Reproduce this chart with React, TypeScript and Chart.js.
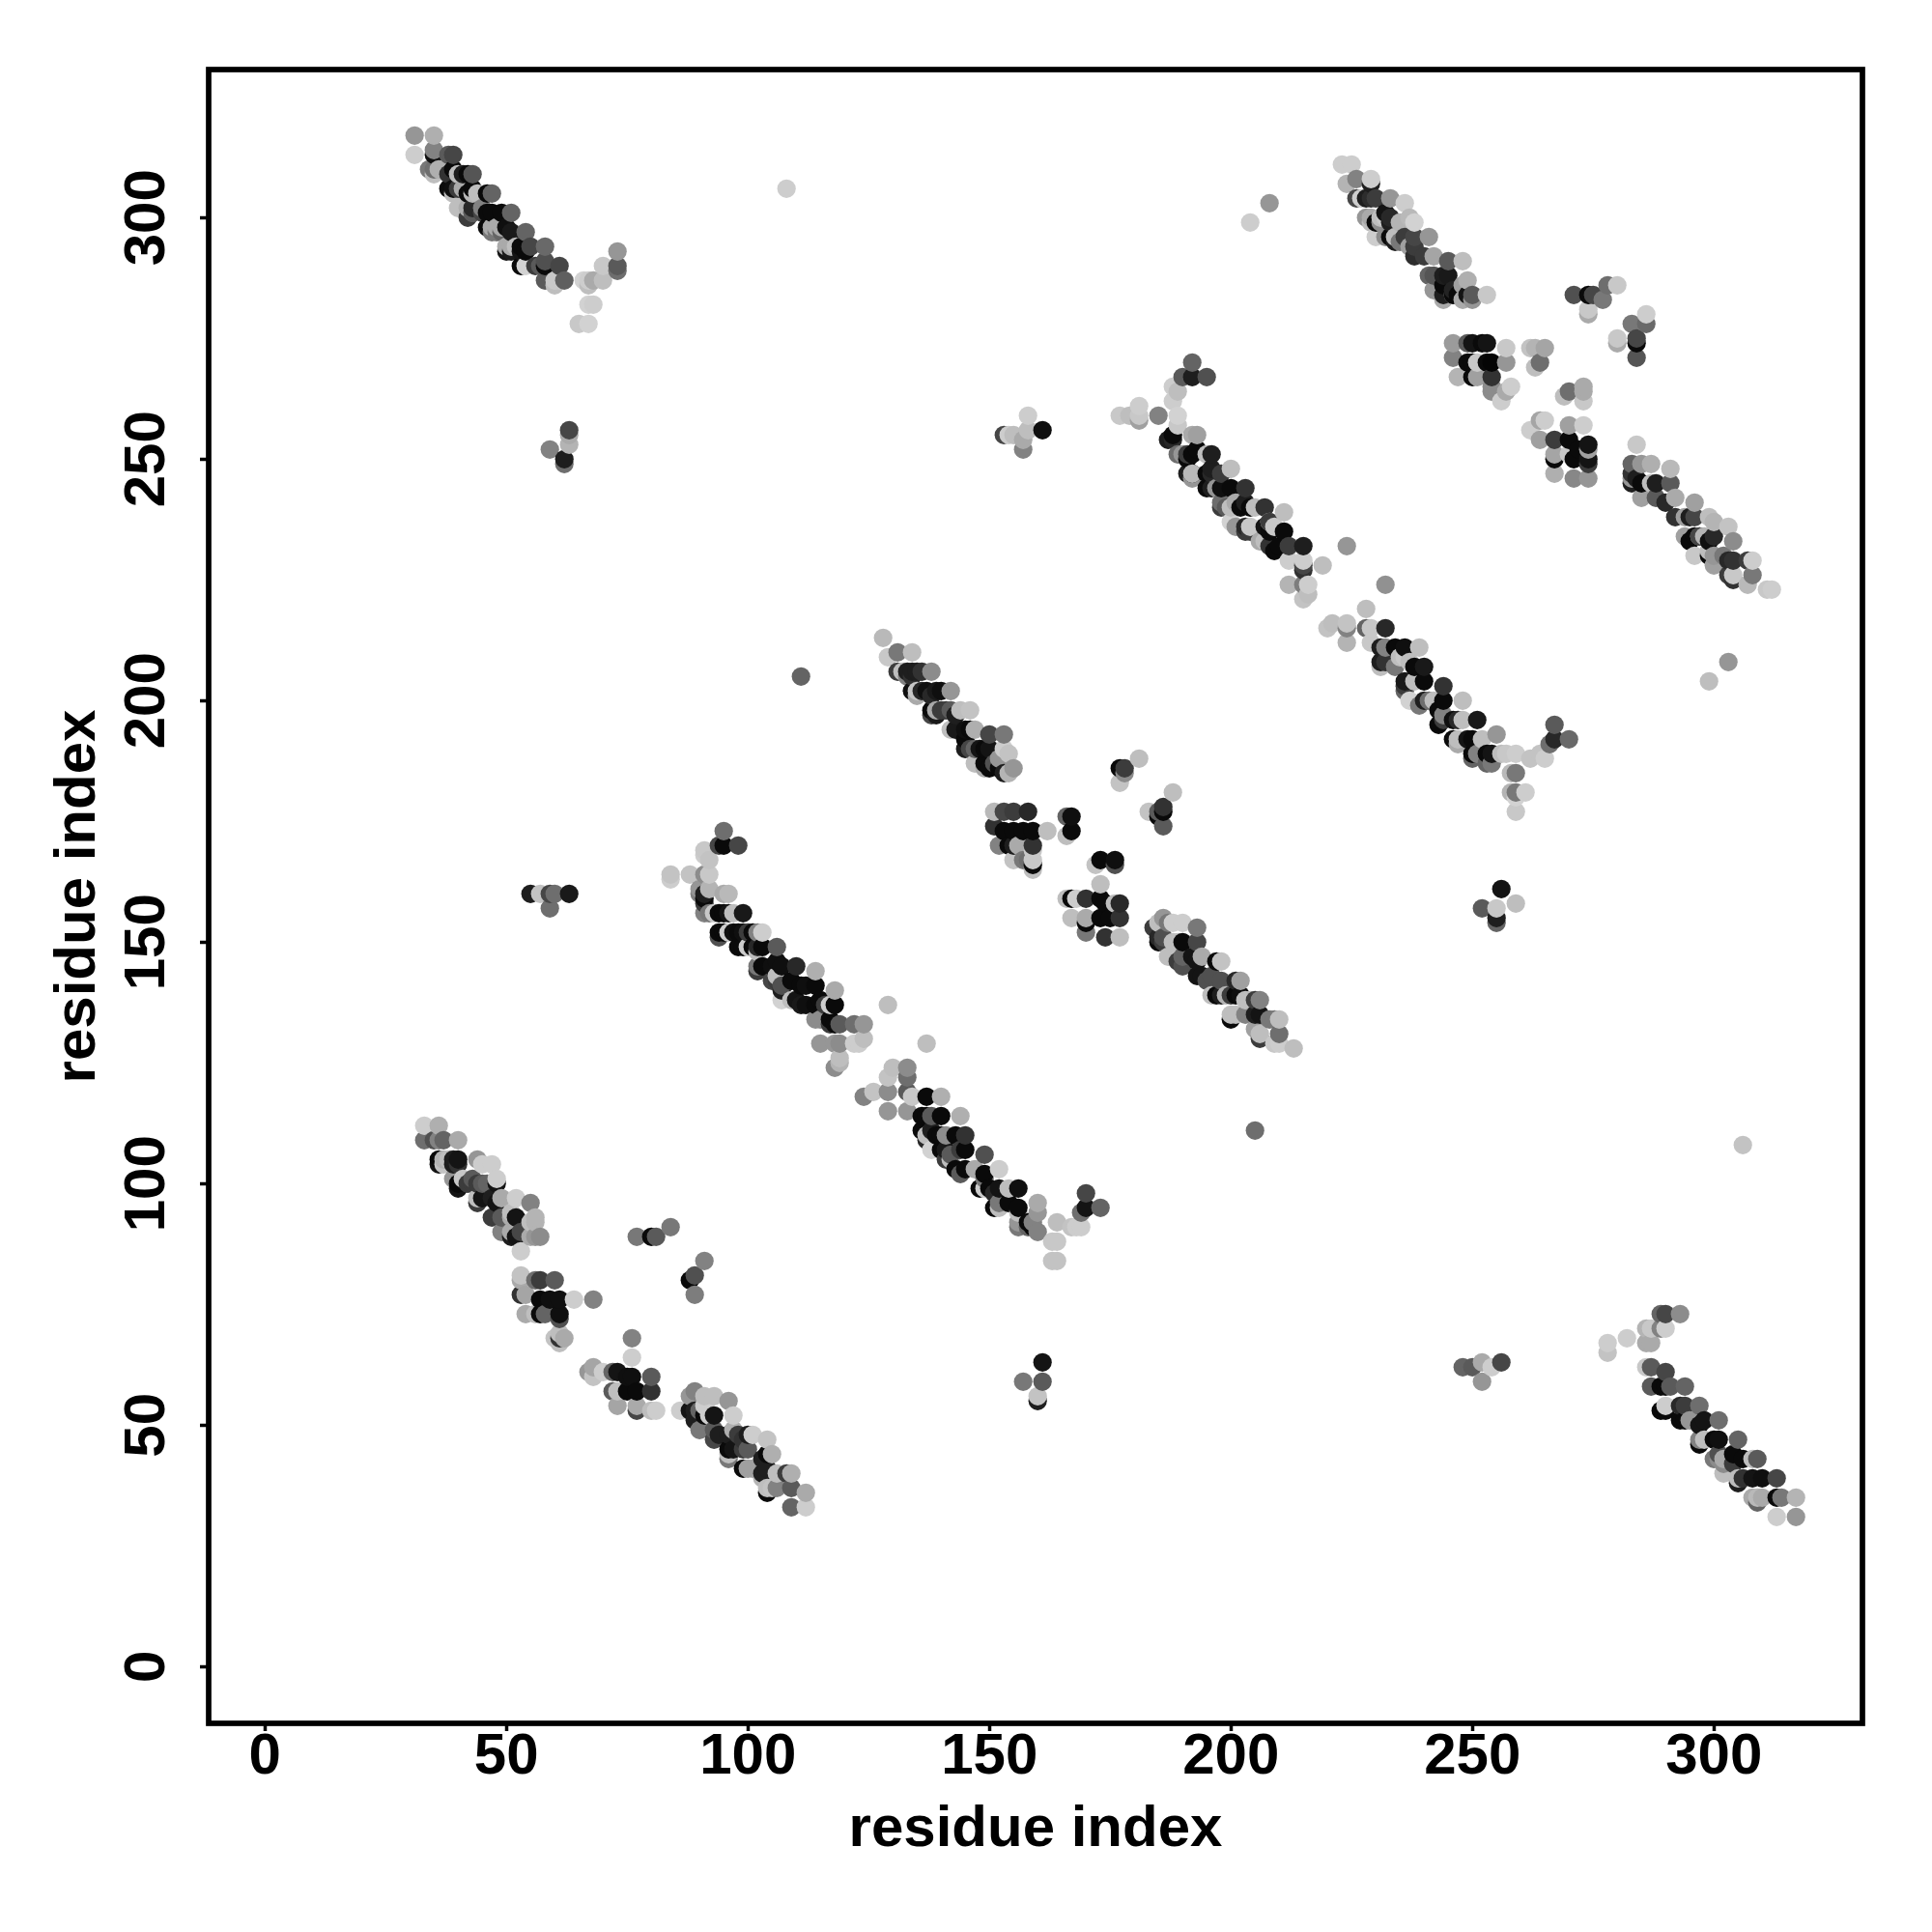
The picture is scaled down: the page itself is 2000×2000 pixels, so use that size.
import React, { useEffect, useRef } from "react";
import { Chart, registerables } from "chart.js";

Chart.register(...registerables);

// each point: residue index i, residue index j, grey level of the contact
const bandA = [[31,317,150],[35,317,175],[31,313,205],[35,313,15],[35,314,130],[38,313,90],[39,313,70],[35,309,190],[35,310,110],[36,310,175],[39,310,10],[40,309,190],[42,309,10],[43,309,85],[39,305,190],[39,306,15],[40,306,60],[43,306,10],[43,305,185],[46,305,10],[47,305,100],[40,302,190],[43,301,120],[43,302,40],[47,301,10],[49,301,10],[51,301,100],[47,297,120],[47,298,170],[49,298,170],[51,297,25],[51,293,25],[51,294,170],[54,297,100],[54,293,10],[55,294,70],[58,294,105],[54,290,210],[57,290,90],[58,290,10],[58,291,80],[61,290,70],[58,287,90],[61,287,200],[62,287,95],[67,287,205],[68,287,170],[70,287,190],[70,290,200],[73,289,110],[73,290,90],[73,293,150],[67,282,210],[68,282,205],[65,278,200],[67,278,210]];
const fillA = [[34,310,120],[38,309,50],[41,309,30],[38,306,12],[41,306,170],[42,305,12],[44,305,190],[42,302,175],[42,300,60],[43,301,90],[45,302,130],[45,301,70],[46,301,10],[46,298,10],[48,297,120],[48,298,170],[49,297,100],[50,298,15],[50,294,170],[50,293,20],[53,294,10],[53,293,20],[52,294,190],[53,290,10],[56,290,60],[60,287,200],[60,286,190],[66,287,210],[67,286,190]];
const bandB = [[223,311,205],[225,311,205],[224,307,180],[226,308,130],[229,307,30],[229,308,205],[226,304,70],[227,304,205],[229,304,45],[233,304,150],[236,303,205],[229,300,170],[230,299,10],[232,300,200],[233,300,40],[237,300,185],[238,299,210],[230,296,205],[234,295,30],[234,296,190],[238,296,70],[241,296,150],[238,292,45],[242,292,165],[245,291,90],[248,291,190],[242,288,85],[245,288,25],[249,287,175],[242,285,150],[246,284,170],[246,284,10],[246,285,35],[250,283,150],[250,284,90],[253,284,200]];
const fillB = [[228,304,30],[230,304,60],[228,300,150],[229,299,190],[231,300,190],[232,301,20],[233,299,30],[235,299,180],[231,299,140],[232,296,140],[233,296,10],[235,295,120],[236,296,60],[237,294,160],[238,294,60],[240,292,60],[241,288,100],[244,286,10],[244,288,30],[244,284,30],[244,283,170],[247,284,10],[248,283,170],[249,284,20],[248,286,160]];
const clusterB1 = [[246,274,155],[250,274,20],[253,274,20],[257,273,200],[246,271,130],[250,270,10],[251,270,200],[254,270,5],[257,270,150],[247,267,180],[250,267,10],[251,267,160],[254,267,50],[258,265,205],[257,264,170],[254,264,140],[254,265,140],[256,262,205],[262,273,195],[263,273,180],[265,273,165],[264,270,110],[263,269,190],[270,264,110],[269,263,190],[273,265,170],[273,264,170],[273,262,200],[280,286,200],[278,286,110],[277,283,120],[274,284,10],[275,284,70],[271,284,80],[274,281,200],[274,280,170],[286,280,205],[286,278,105],[283,278,120],[280,275,200],[280,274,170],[284,274,10],[284,275,70],[284,271,85],[249,274,90],[249,270,10],[252,274,10],[253,270,10]];
const clusterB2 = [[265,258,205],[264,258,165],[262,256,205],[264,254,160],[267,254,60],[270,257,160],[273,257,205],[270,254,10],[274,253,20],[271,250,10],[274,250,20],[267,251,165],[267,250,10],[267,247,175],[271,246,135],[274,246,150],[274,249,60],[272,252,10],[270,251,200],[274,252,160]];
const bandC = [[284,253,200],[283,249,100],[285,249,150],[287,249,175],[291,248,185],[283,246,150],[284,246,30],[288,245,30],[291,245,90],[285,242,160],[288,242,90],[292,242,170],[292,238,50],[296,241,160],[296,238,70],[296,234,10],[297,234,130],[299,238,190],[300,237,180],[303,236,195],[300,234,40],[304,233,140],[296,230,200],[300,230,150],[304,229,50],[308,229,205],[304,226,200],[308,226,120],[307,224,185],[311,223,200],[312,223,205]];
const fillC = [[283,247,50],[283,245,30],[285,245,10],[287,245,190],[290,241,40],[294,238,160],[295,238,30],[294,234,160],[295,233,10],[297,234,70],[298,234,180],[299,233,15],[299,230,10],[300,228,160],[302,230,120],[303,229,40],[307,229,60],[303,226,60],[304,225,50],[299,231,190]];
const bandD = [[192,270,100],[195,267,80],[192,267,30],[190,267,90],[188,265,205],[189,264,190],[188,262,205],[177,259,200],[181,261,205],[181,259,200],[179,259,190],[181,258,160],[185,259,130],[189,259,210],[189,257,200],[188,254,40],[193,255,160],[192,255,170],[189,251,110],[192,251,10],[196,251,30],[192,247,10],[192,247,185],[200,248,190],[196,247,40],[197,244,150],[196,244,30],[200,244,10],[203,244,50],[200,240,190],[199,240,90],[204,240,10],[207,240,50],[200,237,210],[204,236,200],[203,236,40],[208,237,190],[211,239,190],[211,235,10],[208,232,50],[212,232,60],[215,232,30],[207,233,190],[212,229,205],[215,228,70],[215,229,205],[219,228,190],[212,224,180],[215,224,125],[216,224,205],[216,222,190],[215,221,195]];
const fillD = [[187,254,30],[188,255,10],[190,251,150],[191,251,60],[191,250,10],[193,252,10],[195,251,190],[191,247,30],[192,246,150],[195,247,10],[196,248,30],[198,247,60],[195,244,10],[198,244,15],[198,240,60],[198,241,110],[201,241,170],[202,240,10],[203,241,30],[205,240,190],[201,236,150],[203,235,60],[204,235,60],[207,236,20],[208,235,10],[209,236,200],[208,237,60],[210,232,10],[209,231,10],[206,233,170],[215,227,50]];
const bandE = [[228,219,190],[221,216,190],[220,215,195],[224,215,130],[224,216,195],[224,212,180],[229,215,200],[228,215,100],[229,212,200],[232,215,40],[232,211,130],[232,208,50],[236,211,15],[239,211,190],[237,208,190],[240,207,25],[236,204,25],[240,204,10],[244,203,50],[237,200,210],[241,200,110],[244,200,10],[248,200,190],[244,197,130],[247,196,40],[251,196,25],[247,192,190],[250,192,10],[255,193,150],[251,189,130],[254,189,20],[259,189,205],[257,189,200],[262,188,195],[265,188,205],[264,189,195],[259,185,120],[258,185,185],[267,195,90],[267,192,40],[270,192,105],[266,191,110],[258,181,180],[259,181,120],[261,181,205],[259,180,210],[259,177,200]];
const fillE = [[231,211,30],[231,208,30],[231,207,190],[234,211,10],[234,207,120],[235,209,190],[236,209,200],[238,207,10],[236,203,60],[236,202,100],[238,204,190],[240,200,30],[239,199,120],[242,200,190],[243,198,10],[244,196,60],[243,195,10],[246,196,15],[248,196,190],[246,192,10],[247,191,170],[249,192,20],[250,189,10],[250,188,100],[253,189,10],[253,187,100],[254,187,120],[252,192,190],[256,189,190]];
const clusterE = [[177,186,10],[178,186,60],[178,185,140],[181,188,190],[177,183,195],[188,181,190],[183,177,195],[185,177,90],[186,178,50],[186,174,90],[185,176,10],[186,177,10]];
const bandF = [[128,213,185],[129,209,200],[131,210,120],[134,210,190],[131,206,60],[132,206,190],[135,206,30],[138,206,140],[134,205,50],[134,202,130],[135,202,200],[139,202,25],[142,202,150],[138,201,40],[139,197,25],[139,198,170],[142,198,90],[146,198,195],[143,194,25],[146,194,10],[147,194,175],[150,193,70],[153,193,120],[147,190,100],[150,190,20],[153,190,205],[154,189,195],[147,187,190],[150,186,10],[151,187,80],[155,186,150],[154,185,180]];
const fillF = [[133,206,30],[134,206,30],[133,205,130],[136,206,50],[134,202,15],[135,201,170],[137,202,15],[136,202,40],[140,202,15],[138,198,10],[138,197,70],[140,198,60],[141,198,60],[143,197,30],[144,198,190],[142,194,190],[145,194,15],[145,192,10],[146,190,70],[145,190,30],[148,190,20],[149,190,10],[149,187,10],[149,186,170],[152,186,10],[153,185,30],[152,188,150]];
const clusterF1 = [[151,177,185],[155,177,60],[158,177,40],[151,174,50],[155,173,10],[159,173,10],[162,173,190],[152,170,130],[155,170,30],[156,170,170],[159,170,50],[155,167,195],[158,167,110],[159,166,10],[159,167,200],[159,165,190],[167,176,15],[166,176,100],[167,173,10],[166,172,190],[173,167,10],[176,167,15],[176,166,80],[172,166,195],[173,162,190],[153,177,70],[153,173,10],[157,173,10],[154,170,10],[157,167,120],[159,169,200]];
const clusterF2 = [[166,159,190],[167,159,10],[168,159,205],[170,159,50],[173,159,10],[177,158,40],[167,155,190],[170,154,10],[170,155,170],[173,155,10],[177,155,50],[170,152,120],[174,151,50],[177,151,190],[175,155,10],[174,158,10],[176,158,190]];
const bandG = [[186,155,150],[185,154,190],[187,154,120],[188,154,205],[190,154,205],[193,153,120],[186,151,80],[185,151,40],[190,150,10],[193,150,70],[187,147,190],[190,147,100],[193,146,20],[194,147,170],[197,146,10],[198,146,195],[194,143,20],[198,142,80],[198,139,30],[201,142,40],[202,142,160],[197,139,10],[199,139,180],[202,139,15],[204,138,190],[205,138,60],[206,138,130],[201,135,190],[203,135,130],[206,135,20],[209,134,120],[210,134,190],[206,130,60],[206,131,190],[210,131,110],[209,129,200],[210,129,205],[213,128,190]];
const fillG = [[184,153,60],[185,150,10],[186,150,60],[189,150,190],[188,150,190],[192,147,20],[189,146,60],[190,145,80],[193,143,20],[196,143,80],[195,142,80],[196,139,190],[200,139,60],[201,139,10],[203,138,190],[200,135,190],[200,134,10],[205,135,30],[208,134,120],[205,132,160]];
const bandH = [[95,173,110],[98,170,70],[94,170,70],[95,170,10],[91,169,200],[91,168,205],[92,167,195],[84,164,195],[84,163,205],[88,164,195],[92,164,200],[91,164,140],[90,160,130],[92,161,180],[91,159,10],[95,160,170],[96,160,185],[92,156,120],[93,156,200],[95,156,10],[99,156,25],[95,152,10],[96,152,205],[99,152,15],[102,152,130],[103,152,205],[99,149,10],[100,149,205],[103,149,10],[106,149,90],[102,145,120],[103,145,10],[107,145,15],[110,145,40],[114,144,175],[107,138,210],[107,141,80],[111,141,10],[114,141,10],[118,140,170],[111,137,25],[114,137,10],[117,137,205],[118,137,10],[115,134,140],[118,133,10],[119,133,90],[122,133,110],[124,133,150],[115,129,150],[118,129,150],[119,129,140],[122,129,205],[123,129,205],[124,130,190],[119,126,190],[119,125,180],[118,124,140]];
const fillH = [[90,161,150],[91,160,30],[91,158,60],[91,156,130],[94,156,10],[96,156,20],[97,156,190],[94,152,10],[94,151,80],[97,152,15],[98,152,10],[100,152,60],[101,152,10],[98,149,10],[101,149,10],[102,149,40],[102,148,190],[102,144,60],[105,145,15],[106,146,15],[105,142,70],[106,142,60],[109,142,10],[106,143,190],[107,140,30],[112,141,15],[110,138,20],[109,138,190],[112,137,15],[116,137,60],[115,138,10],[117,134,10],[114,134,140],[117,133,60]];
const bandI = [[130,124,190],[133,124,140],[129,122,195],[133,122,110],[124,118,130],[126,119,195],[129,119,140],[129,115,150],[133,115,150],[133,119,90],[134,118,200],[137,118,10],[140,118,175],[137,114,10],[138,114,90],[140,114,10],[144,114,175],[138,107,210],[138,111,30],[140,110,10],[141,110,140],[143,110,10],[145,110,50],[141,107,25],[142,106,90],[145,107,10],[149,106,80],[145,103,10],[149,102,10],[152,103,205],[149,99,205],[152,99,20],[156,99,15],[152,95,190],[156,95,10],[160,96,170],[156,92,150],[160,94,150],[164,92,190],[159,91,10],[160,90,130],[167,91,195],[168,91,205],[169,91,205],[170,98,70],[170,95,20],[173,95,100],[169,94,110],[163,88,200],[164,88,200],[163,84,195],[164,84,195]];
const fillI = [[136,114,10],[136,111,10],[137,110,190],[137,109,40],[139,110,10],[140,107,10],[141,105,60],[142,105,190],[144,107,60],[143,103,10],[144,102,90],[147,103,170],[148,99,10],[149,101,120],[150,99,10],[151,98,40],[151,95,10],[152,96,120],[154,96,10],[156,91,120],[156,94,190],[158,92,10],[158,91,100],[159,92,130],[154,99,190]];
const bandJ = [[33,112,205],[36,112,175],[33,109,110],[36,109,130],[37,109,100],[40,109,170],[36,105,10],[37,105,180],[37,104,195],[40,105,20],[40,104,50],[44,105,150],[45,104,205],[47,104,205],[40,100,10],[41,101,200],[45,100,90],[44,100,60],[48,100,20],[48,101,205],[45,97,20],[44,97,190],[49,97,170],[52,97,205],[55,96,130],[48,96,20],[49,93,90],[52,93,20],[56,93,180],[56,92,180],[49,90,130],[52,89,20],[53,90,70],[56,89,150],[57,89,140],[53,86,205]];
const fillJ = [[35,109,80],[36,104,20],[38,105,190],[39,104,30],[39,105,30],[39,101,150],[40,99,20],[42,100,60],[43,100,60],[43,101,90],[46,100,100],[44,96,60],[47,97,30],[47,93,60],[51,94,190],[51,90,170],[51,89,30],[55,89,170],[55,92,190],[51,93,170]];
const clusterJ1 = [[53,81,195],[53,80,170],[56,80,110],[57,80,60],[60,80,90],[53,77,50],[54,77,165],[57,76,10],[61,76,15],[64,76,205],[68,76,130],[54,73,170],[57,73,10],[58,73,100],[61,72,80],[61,73,15],[61,69,190],[60,68,195],[61,67,190],[61,68,50],[62,68,170],[59,76,15],[56,73,190]];
const clusterJ2 = [[76,68,130],[76,64,205],[68,62,165],[70,61,205],[68,60,195],[67,61,150],[72,61,100],[73,61,20],[76,60,15],[80,60,90],[72,57,90],[73,57,190],[77,57,10],[80,57,50],[73,54,165],[77,53,70],[77,54,170],[81,53,205],[80,53,190],[86,53,205],[84,91,120],[81,89,90],[80,89,10],[77,89,120],[91,84,130],[89,81,80],[88,80,10],[89,77,125],[75,60,15],[75,57,10]];
const bandK = [[89,57,130],[91,56,190],[93,56,190],[96,55,150],[88,56,150],[89,53,30],[90,53,100],[93,52,20],[97,52,205],[92,52,205],[90,49,120],[93,49,90],[93,47,70],[97,49,175],[101,48,205],[100,48,30],[97,45,20],[96,45,10],[100,45,90],[104,47,195],[105,44,175],[104,44,10],[100,41,160],[99,41,10],[104,41,30],[109,40,175],[108,40,60],[105,37,195],[104,36,10],[109,37,90],[112,36,170],[109,33,100],[112,33,205]];
const fillK = [[88,53,20],[89,51,30],[91,54,205],[91,52,10],[94,48,30],[96,48,30],[96,44,190],[96,43,120],[98,48,60],[99,47,50],[99,45,60],[101,41,160],[103,43,30],[103,40,30],[103,39,180],[104,37,190],[106,40,190],[106,37,130]];
const bandL = [[290,73,70],[289,73,100],[293,73,140],[286,70,180],[287,70,200],[290,70,205],[289,70,130],[278,67,205],[278,65,195],[282,68,205],[286,67,170],[287,67,170],[286,62,200],[287,62,90],[287,58,90],[290,61,70],[290,58,10],[291,58,90],[294,58,100],[290,54,205],[289,53,10],[294,54,60],[297,54,110],[294,51,10],[295,51,150],[298,51,20],[301,51,110],[297,47,130],[298,47,190],[301,47,15],[305,47,100],[302,40,190],[301,43,140],[302,43,170],[306,43,10],[309,43,90],[306,39,50],[310,39,15],[313,39,70],[309,35,185],[310,35,170],[314,35,120],[317,35,180],[313,31,205],[317,31,150]];
const fillL = [[289,58,10],[290,53,10],[293,54,40],[293,51,10],[297,50,20],[297,46,10],[300,47,10],[301,44,80],[300,43,120],[302,42,140],[304,44,10],[304,42,60],[305,39,190],[305,38,30],[308,39,20],[308,43,190],[308,35,170],[313,35,10],[309,34,100]];
const outliers = [[108,306,205],[204,299,205],[208,303,150],[111,205,100],[205,111,110],[306,108,195],[299,204,190],[303,208,150],[129,137,190],[137,129,190],[224,232,150],[232,224,145]];
const smallGroups = [[59,252,130],[62,249,110],[62,250,30],[63,253,180],[63,255,170],[63,256,70],[153,255,70],[154,255,205],[155,255,190],[157,252,130],[157,254,170],[158,256,190],[158,259,205],[161,256,15],[55,160,30],[57,160,195],[59,157,110],[59,160,70],[60,160,110],[63,160,25],[157,59,120],[160,55,30],[160,56,195],[161,59,90],[161,63,20],[252,157,90],[255,154,100],[255,155,30],[255,157,200],[256,161,20],[259,158,190],[248,62,100],[250,62,90],[252,59,150],[252,63,170],[254,62,205],[256,63,70]];

const axisTicks = [0, 50, 100, 150, 200, 250, 300];
const xLabel = "residue index";
const yLabel = "residue index";

const allGroups = [bandA, fillA, bandB, fillB, clusterB1, clusterB2, bandC, fillC, bandD, fillD, bandE, fillE, clusterE, bandF, fillF, clusterF1, clusterF2, bandG, fillG, bandH, fillH, bandI, fillI, bandJ, fillJ, clusterJ1, clusterJ2, bandK, fillK, bandL, fillL, outliers, smallGroups];
const points = allGroups.flat().sort((a, b) => a[0] - b[0] || a[1] - b[1]);

const FONT = '"Liberation Sans", Arial, sans-serif';

export default function App() {
  const ref = useRef<HTMLCanvasElement>(null);
  useEffect(() => {
    const frame = {
      id: "frame",
      afterDatasetsDraw(c: any) {
        const { ctx, chartArea: a } = c;
        ctx.save();
        ctx.strokeStyle = "#000";
        ctx.lineWidth = 5.7;
        ctx.lineJoin = "miter";
        ctx.strokeRect(a.left, a.top, a.right - a.left, a.bottom - a.top);
        ctx.restore();
      },
    };
    const chart = new Chart(ref.current!, {
      type: "scatter",
      data: {
        datasets: [{
          data: points.map((p) => ({ x: p[0], y: p[1] })),
          pointRadius: 9.6,
          pointHoverRadius: 9.6,
          pointBorderWidth: 0,
          pointBackgroundColor: points.map((p) => `rgb(${p[2]},${p[2]},${p[2]})`),
        }],
      },
      options: {
        responsive: false,
        animation: false,
        layout: { padding: { left: 0, top: 72, right: 72, bottom: 0 } },
        plugins: { legend: { display: false }, tooltip: { enabled: false } },
        scales: {
          x: {
            type: "linear",
            min: -11.64,
            max: 330.76,
            afterFit: (s: any) => { s.height = 216; },
            afterBuildTicks: (s: any) => { s.ticks = axisTicks.map((value) => ({ value })); },
            border: { display: false },
            grid: { drawOnChartArea: false, drawTicks: true, tickLength: 8, tickWidth: 3.5, tickColor: "#000" },
            ticks: { autoSkip: false, maxRotation: 0, padding: -8.5, color: "#000", font: { family: FONT, size: 60, weight: "bold" } },
            title: { display: true, text: xLabel, color: "#000", padding: { top: 4, bottom: 70 }, font: { family: FONT, size: 60, weight: "bold" } },
          },
          y: {
            type: "linear",
            min: -11.74,
            max: 330.66,
            afterFit: (s: any) => { s.width = 216; },
            afterBuildTicks: (s: any) => { s.ticks = axisTicks.map((value) => ({ value })); },
            border: { display: false },
            grid: { drawOnChartArea: false, drawTicks: true, tickLength: 9, tickWidth: 3.5, tickColor: "#000" },
            ticks: { autoSkip: false, minRotation: 90, maxRotation: 90, crossAlign: "center", padding: 3, color: "#000", font: { family: FONT, size: 60, weight: "bold" } },
            title: { display: true, text: yLabel, color: "#000", padding: { top: 45, bottom: 0 }, font: { family: FONT, size: 60, weight: "bold" } },
          },
        },
      },
      plugins: [frame],
    } as any);
    return () => chart.destroy();
  }, []);
  return (
    <div style={{ position: "absolute", left: 0, top: 0, width: 2000, height: 2000, background: "#fff" }}>
      <canvas ref={ref} width={2000} height={2000} style={{ display: "block" }} />
    </div>
  );
}
